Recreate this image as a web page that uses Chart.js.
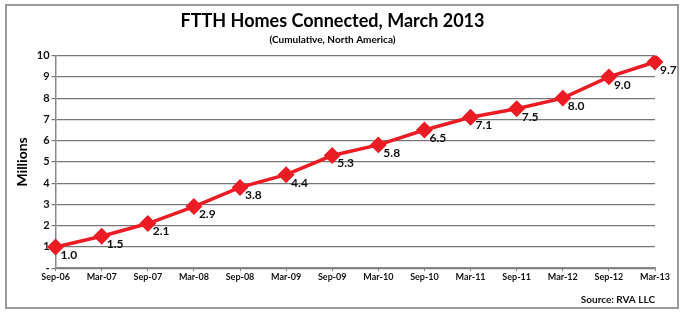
<!DOCTYPE html>
<html>
<head>
<meta charset="utf-8">
<script src="https://cdn.jsdelivr.net/npm/chart.js@4/dist/chart.umd.min.js"></script>
<style>
  html, body { margin: 0; padding: 0; background: #fff; }
  .frame { position: absolute; left: 5px; top: 4px; width: 670px; height: 301px; border: 2px solid #9a9a9a; }
  .wrap { position: absolute; left: 0; top: 0; width: 685px; height: 314px; }
</style>
</head>
<body>
<div class="frame"></div>
<div class="wrap"><canvas id="c" width="685" height="314"></canvas></div>
<script>
const labels = ['Sep-06', 'Mar-07', 'Sep-07', 'Mar-08', 'Sep-08', 'Mar-09', 'Sep-09',
                'Mar-10', 'Sep-10', 'Mar-11', 'Sep-11', 'Mar-12', 'Sep-12', 'Mar-13'];
const homes  = [1.0, 1.5, 2.1, 2.9, 3.8, 4.4, 5.3, 5.8, 6.5, 7.1, 7.5, 8.0, 9.0, 9.7];

const font = "Lato, 'Open Sans', 'DejaVu Sans', sans-serif";
const red  = '#ec1c24';

// value labels sit just below-right of each marker
const valueLabels = {
  id: 'valueLabels',
  afterDatasetsDraw(chart) {
    const ctx = chart.ctx;
    const meta = chart.getDatasetMeta(0);
    ctx.save();
    ctx.font = `bold 12px ${font}`;
    ctx.fillStyle = '#111';
    ctx.textAlign = 'left';
    ctx.textBaseline = 'middle';
    meta.data.forEach((pt, i) => {
      ctx.fillText(homes[i].toFixed(1), pt.x + 5, pt.y + 8);
    });
    ctx.restore();
  }
};

// source note bottom right
const sourceNote = {
  id: 'sourceNote',
  afterDraw(chart) {
    const ctx = chart.ctx;
    ctx.save();
    ctx.font = `bold 10px ${font}`;
    ctx.fillStyle = '#111';
    ctx.textAlign = 'right';
    ctx.textBaseline = 'middle';
    ctx.fillText('Source: RVA LLC', chart.chartArea.right, 300);
    ctx.restore();
  }
};

new Chart(document.getElementById('c'), {
  type: 'line',
  data: {
    labels,
    datasets: [{
      data: homes,
      borderColor: red,
      backgroundColor: red,
      borderWidth: 3.5,
      pointStyle: 'rectRot',
      pointRadius: 6,
      pointHoverRadius: 6,
      tension: 0,
    }],
  },
  options: {
    responsive: false,
    animation: false,
    layout: { padding: { left: 10, right: 30, top: 2, bottom: 32 } },
    plugins: {
      legend: { display: false },
      tooltip: { enabled: false },
      title: {
        display: true,
        text: 'FTTH Homes Connected, March 2013',
        color: '#000',
        font: { family: font, size: 18, weight: 'bold' },
        padding: { top: 8, bottom: 0 },
      },
      subtitle: {
        display: true,
        text: '(Cumulative, North America)',
        color: '#000',
        font: { family: font, size: 10, weight: 'bold' },
        padding: { top: 2, bottom: 10 },
      },
    },
    scales: {
      x: {
        offset: false,
        grid: { drawOnChartArea: false, drawTicks: true, tickLength: 3, color: '#888' },
        border: { color: '#888', width: 1.5 },
        ticks: { color: '#111', font: { family: font, size: 9, weight: 'bold' }, maxRotation: 0, autoSkip: false, padding: 0 },
      },
      y: {
        min: 0, max: 10,
        grid: { color: '#777', lineWidth: 1.2, tickLength: 4 },
        border: { color: '#888', width: 1.5 },
        ticks: {
          stepSize: 1,
          color: '#111',
          font: { family: font, size: 11, weight: 'bold' },
          padding: 2,
          callback: v => v === 0 ? '-' : v,
        },
        title: {
          display: true,
          text: 'Millions',
          color: '#000',
          font: { family: font, size: 14, weight: 'bold' },
          padding: { bottom: 4 },
        },
      },
    },
  },
  plugins: [valueLabels, sourceNote],
});
</script>
</body>
</html>
